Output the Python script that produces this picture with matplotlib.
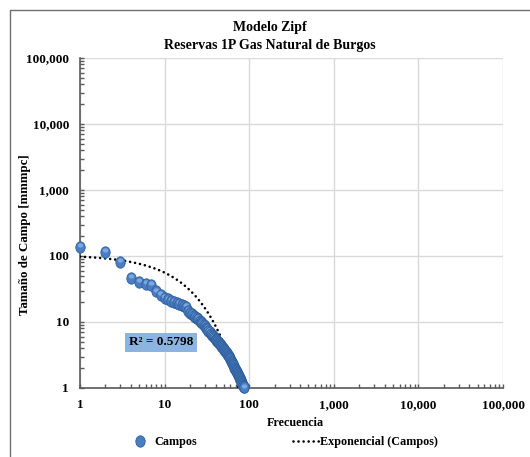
import numpy as np
import matplotlib
matplotlib.use("Agg")
import matplotlib.pyplot as plt
from matplotlib.markers import MarkerStyle
from matplotlib.transforms import Affine2D, offset_copy
from matplotlib.lines import Line2D
from matplotlib.patches import Rectangle
from matplotlib.ticker import FuncFormatter, LogLocator, NullFormatter

# Field reserves ranked by size (mmmpc)
reservas = [
    135, 115, 82, 46, 41, 37.5, 36, 29, 25.5, 23.5,
    22, 21, 20.3, 19.7, 19, 18.3, 17.6, 16.8, 14.5, 13.6,
    13.0, 12.5, 12.0, 11.5, 11.0, 10.5, 10.0, 9.5, 9.0, 8.6,
    8.2, 7.8, 7.4, 7.0, 6.6, 6.35, 6.1, 5.9, 5.7, 5.5,
    5.3, 5.1, 4.95, 4.8, 4.65, 4.5, 4.35, 4.2, 4.05, 3.9,
    3.78, 3.66, 3.54, 3.42, 3.3, 3.15, 3.03, 2.92, 2.81, 2.71,
    2.61, 2.51, 2.42, 2.33, 2.24, 2.12, 2.0, 1.93, 1.86, 1.8,
    1.74, 1.68, 1.62, 1.57, 1.52, 1.47, 1.42, 1.37, 1.31, 1.26,
    1.22, 1.18, 1.14, 1.11, 1.08, 1.05, 1.02,
]
frecuencia = list(range(1, len(reservas) + 1))

# Exponential trend y = a * exp(b * x)
trend_a = 104.0
trend_b = -0.062
r2_text = "R² = 0.5798"

plt.rcParams["font.family"] = ["Liberation Serif", "DejaVu Serif"]
plt.rcParams["font.weight"] = "bold"

W, H = 530, 457
fig = plt.figure(figsize=(W / 100, H / 100), dpi=100)
ax = fig.add_axes([80 / W, 1 - 388 / H, 423 / W, 330 / H])

ax.set_xscale("log")
ax.set_yscale("log")
ax.set_xlim(1, 100000)
ax.set_ylim(1, 100000)

ax.grid(True, which="major", color="#d9d9d9", lw=1.0)
ax.set_axisbelow(True)
for s in ("top", "right"):
    ax.spines[s].set_visible(False)
for s in ("left", "bottom"):
    ax.spines[s].set_color("#595959")
    ax.spines[s].set_linewidth(1.2)

fmt = FuncFormatter(lambda v, p: f"{v:,.0f}")
for axis in (ax.xaxis, ax.yaxis):
    axis.set_major_locator(LogLocator(base=10, numticks=10))
    axis.set_minor_locator(LogLocator(base=10, subs=np.arange(2, 10), numticks=20))
    axis.set_major_formatter(fmt)
    axis.set_minor_formatter(NullFormatter())
ax.tick_params(which="major", direction="in", length=3, width=1, color="#595959",
               labelsize=9.5, pad=8)
ax.tick_params(which="minor", direction="in", length=3, width=1, color="#595959")
for lab in ax.get_xticklabels() + ax.get_yticklabels():
    lab.set_fontweight("bold")

# trend line
dot_style = dict(color="black", lw=1.9, linestyle=(0, (0.01, 1.9)),
                 dash_capstyle="round")
xt = np.linspace(1, max(frecuencia), 400)
yt = trend_a * np.exp(trend_b * xt)
ax.plot(xt, yt, zorder=3, **dot_style)

# sphere-like markers: dark body plus a soft highlight near the top
ell = MarkerStyle("o", transform=Affine2D().scale(0.82, 1.0))
hl = MarkerStyle("o", transform=Affine2D().scale(0.9, 0.7))
hl_tr = offset_copy(ax.transData, fig=fig, x=-0.3, y=1.9, units="dots")
z = 4.0
for xi, yi in zip(frecuencia, reservas):
    ax.plot([xi], [yi], linestyle="none", marker=ell, ms=8.2, mfc="#4a7ec2",
            mec="#2f5e9c", mew=0.6, zorder=z, clip_on=False)
    ax.plot([xi], [yi], linestyle="none", marker=hl, ms=4.4, mfc="#8fb6ea",
            mec="none", alpha=0.75, zorder=z + 0.001, clip_on=False,
            transform=hl_tr)
    z += 0.002

ax.text(0.1915, 0.138, r2_text, transform=ax.transAxes, ha="center", va="center",
        fontsize=9.5, fontweight="bold", color="black",
        bbox=dict(boxstyle="square,pad=0.28", fc="#8db3e0", ec="none"), zorder=10)

fig.text(269.5 / W, 1 - 28 / H, "Modelo Zipf", ha="center", va="center",
         fontsize=10, fontweight="bold")
fig.text(269.5 / W, 1 - 45 / H, "Reservas 1P Gas Natural de Burgos", ha="center",
         va="center", fontsize=10, fontweight="bold")
fig.text(295 / W, 1 - 422.5 / H, "Frecuencia", ha="center", va="center",
         fontsize=8.7, fontweight="bold")
fig.text(25 / W, 1 - 235 / H, "Tamaño de Campo [mmmpc]", ha="center", va="center",
         rotation=90, fontsize=9.3, fontweight="bold")

# chart frame
fig.patches.append(Rectangle((9.5 / W, -0.1), 1.2, 1.1 - 10 / H,
                             transform=fig.transFigure, fill=False,
                             ec="#6e6e6e", lw=1.0))

h1 = Line2D([], [], linestyle="none", marker=ell, ms=8.2, mfc="#4a7ec2",
            mec="#2f5e9c", mew=0.6)
h2 = Line2D([], [], **dot_style)
fig.legend([h1, h2], ["Campos", "Exponencial (Campos)"], loc="center",
           bbox_to_anchor=(282.7 / W, 1 - 442.5 / H), ncol=2, frameon=False,
           prop=dict(family="Liberation Serif", weight="bold", size=8.7),
           handlelength=2.2, handletextpad=0.08, columnspacing=7.9)

fig.savefig("out.png", dpi=100)
